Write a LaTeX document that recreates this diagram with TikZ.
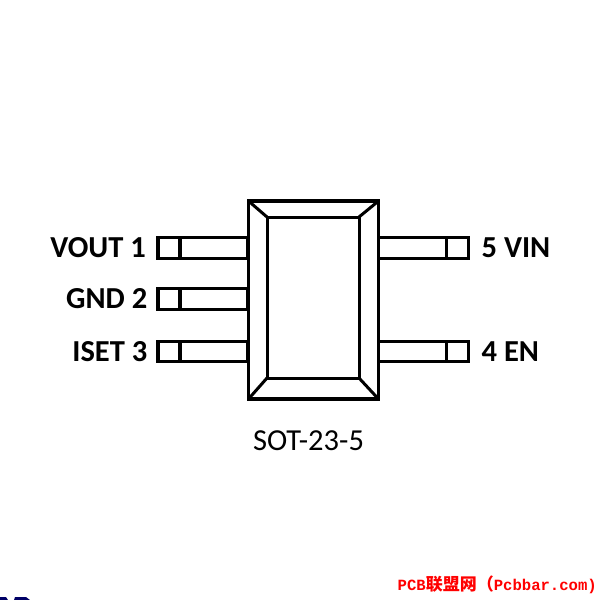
\documentclass[tikz,border=0pt]{standalone}
\usepackage{fontspec}
\setmainfont{Carlito}
\newfontfamily\cjk{Noto Sans CJK SC}
\newfontfamily\wmark{Liberation Mono}
\usetikzlibrary{positioning}
\tikzset{
  box/.style={draw,rectangle,line width=3.4pt,inner sep=0pt,outer sep=0pt},
  lead/.style={box,minimum width=68pt,minimum height=20.5pt},
  tip/.style={box,minimum width=22pt,minimum height=20.5pt},
  pinlabel/.style={inner sep=0pt,font=\fontsize{30.5}{30}\selectfont\bfseries},
}
\begin{document}
\begin{tikzpicture}[x=1pt,y=-1pt]
\useasboundingbox (0,0) rectangle (600,600);
\node[box,minimum width=130pt,minimum height=198pt] (body) at (313.5,300) {};
\node[box,line width=3pt,minimum width=92pt,minimum height=161pt] (core) at (313,297.5) {};
\draw[line width=3pt] (body.north west) -- (core.north west);
\draw[line width=3pt] (body.north east) -- (core.north east);
\draw[line width=3pt] (body.south west) -- (core.south west);
\draw[line width=3pt] (body.south east) -- (core.south east);
\node[lead] (vout) at (214,248) {};
\node[tip,left=0pt of vout] (voutt) {};
\node[pinlabel,left=12pt of voutt] (voutl) {VOUT 1};
\node[lead] (gnd) at (214,299) {};
\node[tip,left=0pt of gnd] (gndt) {};
\node[pinlabel,left=10.5pt of gndt] (gndl) {GND 2};
\node[lead] (iset) at (214,351.5) {};
\node[tip,left=0pt of iset] (isett) {};
\node[pinlabel,left=10.5pt of isett] (isetl) {ISET 3};
\node[lead] (vin) at (412.5,248) {};
\node[tip,right=0pt of vin] (vint) {};
\node[pinlabel,right=13pt of vint] (vinl) {5 VIN};
\node[lead] (en) at (412.5,351.5) {};
\node[tip,right=0pt of en] (ent) {};
\node[pinlabel,right=13pt of ent] (enl) {4 EN};
\node[inner sep=0pt,font=\fontsize{30.5}{30}\selectfont] (pkg) at (308.5,441) {SOT-23-5};
\node[inner sep=0pt,anchor=east,text=red,font=\fontsize{15.6}{16}\selectfont\bfseries] (mark) at (597,585) {\wmark PCB{\cjk\fontsize{17}{16}\selectfont 联盟网（}Pcbbar.com)};
\fill[blue!40!black] (0,597) -- (6,597) -- (8,600) -- (0,600) -- cycle;
\fill[blue!40!black] (14,600) -- (15,597) -- (26,597) -- (30,600) -- cycle;
\end{tikzpicture}
\end{document}
